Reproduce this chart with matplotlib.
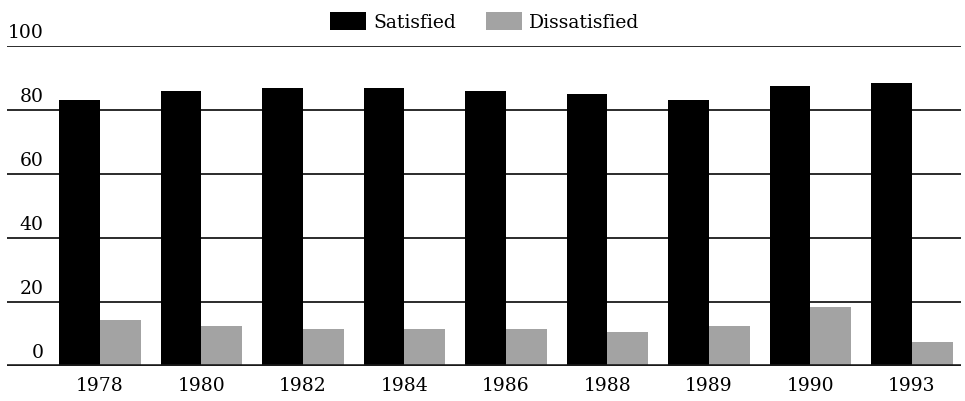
import matplotlib.pyplot as plt
import numpy as np

# Survey results, percent
years = ['1978', '1980', '1982', '1984', '1986', '1988', '1989', '1990', '1993']
satisfied = [83, 86, 87, 87, 86, 85, 83, 87.5, 88.5]
dissatisfied = [14.5, 12.5, 11.5, 11.5, 11.5, 10.5, 12.5, 18.5, 7.5]
yticks = [0, 20, 40, 60, 80, 100]

plt.rcParams['font.family'] = ['DejaVu Serif']

fig = plt.figure(figsize=(9.65, 4.02), dpi=100)
W, H = 965, 402
ax = fig.add_axes([7 / W, (H - 367) / H, (961 - 7) / W, 320 / H])

x = np.arange(len(years))
w = 0.4
b1 = ax.bar(x - w / 2, satisfied, w, color='black', label='Satisfied', zorder=3)
b2 = ax.bar(x + w / 2, dissatisfied, w, color='#a3a3a3', label='Dissatisfied', zorder=3)

ax.set_xlim(-0.916, 8.483)
ax.set_ylim(0, 100)

# horizontal rules with labels sitting above them
for v in yticks:
    ax.axhline(v, color='#1a1a1a', lw=2.6 if v == 0 else 1.3, zorder=2 if v else 4)
    ax.text(0.038, v + 1.5, str(v), transform=ax.get_yaxis_transform(),
            ha='right', va='bottom', fontsize=13.5)

for s in ax.spines.values():
    s.set_visible(False)
ax.set_yticks([])
ax.set_xticks(x)
ax.set_xticklabels(years, fontsize=13.5)
ax.tick_params(axis='x', length=0, pad=7)

fig.legend(handles=[b1, b2], loc='upper center', bbox_to_anchor=(485 / W, 1.01),
           ncol=2, frameon=False, fontsize=13.5, handlelength=1.9, handleheight=1.1,
           handletextpad=0.4, columnspacing=1.6)

fig.savefig('out.png', dpi=100)
